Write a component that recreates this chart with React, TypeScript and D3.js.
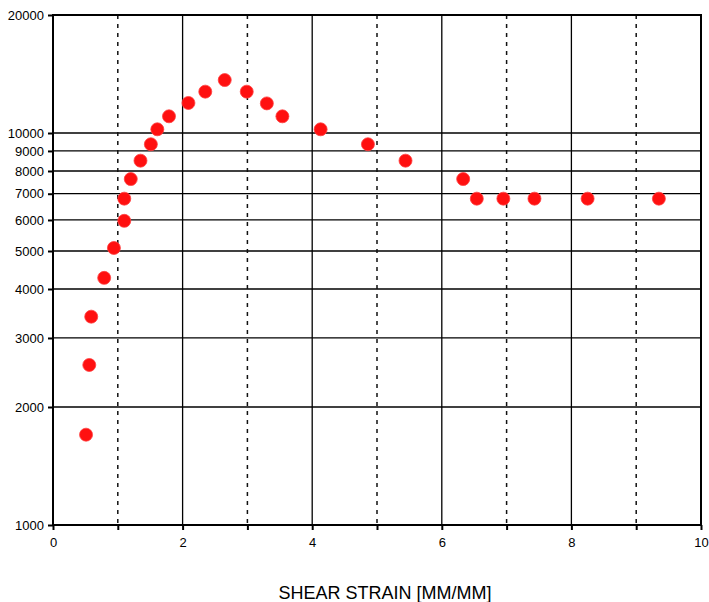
import React, { useEffect, useRef } from "react";
import * as d3 from "d3";

// shear strain vs stress readings
const strainValues = [0.51, 0.56, 0.59, 0.79, 0.94, 1.1, 1.1, 1.2, 1.35, 1.51, 1.61, 1.79, 2.09, 2.35, 2.65, 2.99, 3.3, 3.54, 4.13, 4.86, 5.44, 6.33, 6.54, 6.95, 7.43, 8.25, 9.35];
const stressValues = [1700, 2560, 3400, 4270, 5090, 5970, 6800, 7630, 8500, 9360, 10220, 11030, 11930, 12750, 13650, 12750, 11900, 11030, 10220, 9360, 8500, 7630, 6800, 6800, 6800, 6800, 6800];
const xTicks = [0, 2, 4, 6, 8, 10];
const xMinorTicks = [1, 3, 5, 7, 9];
const yTicks = [1000, 2000, 3000, 4000, 5000, 6000, 7000, 8000, 9000, 10000, 20000];
const xLabel = "SHEAR STRAIN [MM/MM]";

const W = 709;
const H = 602;
const margin = { top: 15, right: 8, bottom: 77, left: 53 };

const App = () => {
    const ref = useRef<SVGSVGElement>(null);

    useEffect(() => {
        const svg = d3.select(ref.current);
        svg.selectAll("*").remove();

        const x = d3.scaleLinear().domain([0, 10]).range([margin.left, W - margin.right]);
        const y = d3.scaleLog().domain([1000, 20000]).range([H - margin.bottom, margin.top]);
        const font = "Liberation Sans, Arial, sans-serif";

        // horizontal grid
        svg.append("g").selectAll("line")
            .data(yTicks)
            .join("line")
            .attr("x1", x(0)).attr("x2", x(10))
            .attr("y1", d => y(d)).attr("y2", d => y(d))
            .attr("stroke", "#000").attr("stroke-width", 1.3);

        // vertical grid, solid at even, dashed at odd
        svg.append("g").selectAll("line")
            .data(xTicks)
            .join("line")
            .attr("x1", d => x(d)).attr("x2", d => x(d))
            .attr("y1", y(20000)).attr("y2", y(1000))
            .attr("stroke", "#000").attr("stroke-width", 1.3);

        svg.append("g").selectAll("line")
            .data(xMinorTicks)
            .join("line")
            .attr("x1", d => x(d)).attr("x2", d => x(d))
            .attr("y1", y(20000)).attr("y2", y(1000))
            .attr("stroke", "#111").attr("stroke-width", 1.5)
            .attr("stroke-dasharray", "4,5");

        // frame
        svg.append("rect")
            .attr("x", x(0)).attr("y", y(20000))
            .attr("width", x(10) - x(0)).attr("height", y(1000) - y(20000))
            .attr("fill", "none").attr("stroke", "#000").attr("stroke-width", 2);

        // axes
        const xAxis = svg.append("g")
            .attr("transform", `translate(0,${y(1000)})`)
            .call(d3.axisBottom(x).tickValues([...xTicks, ...xMinorTicks]).tickSize(5).tickPadding(8)
                .tickFormat(d => (xTicks.includes(+d) ? String(d) : "")));
        xAxis.select(".domain").remove();
        xAxis.selectAll("line").attr("stroke-width", 2);
        xAxis.selectAll("text").attr("font-family", font).attr("font-size", 13).attr("fill", "#000");

        const yAxis = svg.append("g")
            .attr("transform", `translate(${x(0)},0)`)
            .call(d3.axisLeft(y).tickValues(yTicks).tickSize(5).tickPadding(4)
                .tickFormat(d => String(d)));
        yAxis.select(".domain").remove();
        yAxis.selectAll("line").attr("stroke-width", 2);
        yAxis.selectAll("text").attr("font-family", font).attr("font-size", 13).attr("fill", "#000");

        // points
        svg.append("g").selectAll("circle")
            .data(strainValues.map((s, i) => ({ s, v: stressValues[i] })))
            .join("circle")
            .attr("cx", d => x(d.s))
            .attr("cy", d => y(d.v))
            .attr("r", 6.5)
            .attr("fill", "#ff1010")
            .attr("stroke", "#ff4040")
            .attr("stroke-width", 0.8);

        svg.append("text")
            .attr("x", 385)
            .attr("y", 599)
            .attr("text-anchor", "middle")
            .attr("font-family", font)
            .attr("font-size", 18)
            .text(xLabel);
    }, []);

    return (
        <svg ref={ref} width={W} height={H} style={{ position: "absolute", left: 0, top: 0, background: "#fff" }}></svg>
    );
};

export default App;
